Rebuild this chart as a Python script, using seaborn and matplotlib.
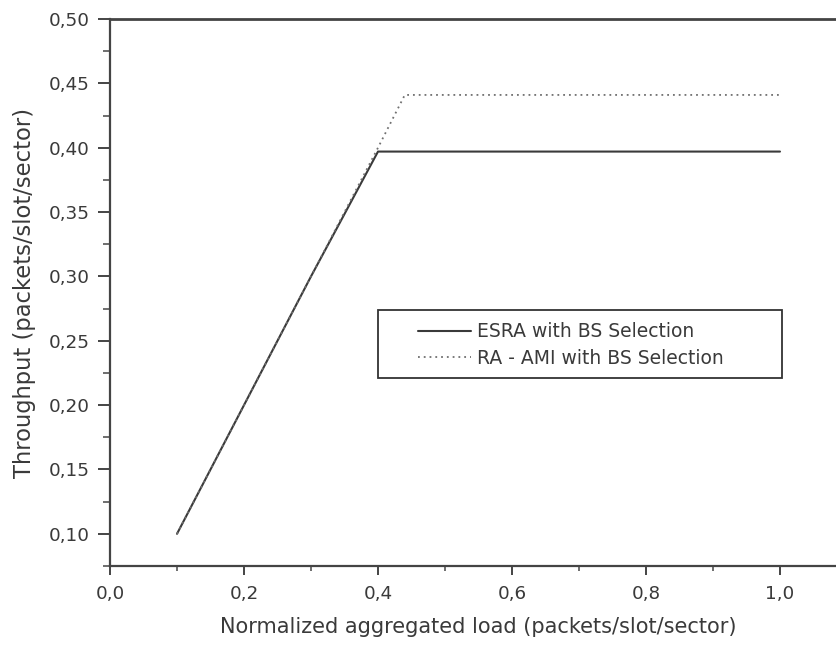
import matplotlib
matplotlib.use("Agg")
import matplotlib.pyplot as plt
from matplotlib.patches import Rectangle
from matplotlib.ticker import FixedLocator, MultipleLocator
import pandas as pd
import seaborn as sns

# Throughput versus normalized load for the two schemes
load_esra = [0.1, 0.2, 0.3, 0.4, 0.5, 0.6, 0.7, 0.8, 0.9, 1.0]
thr_esra = [0.100, 0.200, 0.300, 0.397, 0.397, 0.397, 0.397, 0.397, 0.397, 0.397]

load_ami = [0.1, 0.2, 0.3, 0.4, 0.44, 0.5, 0.6, 0.7, 0.8, 0.9, 1.0]
thr_ami = [0.100, 0.200, 0.300, 0.400, 0.441, 0.441, 0.441, 0.441, 0.441, 0.441, 0.441]

series_names = ["ESRA with BS Selection", "RA - AMI with BS Selection"]

x_ticks = [0.0, 0.2, 0.4, 0.6, 0.8, 1.0]
x_tick_labels = ["0,0", "0,2", "0,4", "0,6", "0,8", "1,0"]
y_ticks = [0.10, 0.15, 0.20, 0.25, 0.30, 0.35, 0.40, 0.45, 0.50]
y_tick_labels = ["0,10", "0,15", "0,20", "0,25", "0,30", "0,35", "0,40", "0,45", "0,50"]

x_label = "Normalized aggregated load (packets/slot/sector)"
y_label = "Throughput (packets/slot/sector)"

sns.set_style("ticks")
plt.rcParams["font.family"] = ["DejaVu Sans"]

ink = "#3a3a3a"
fig = plt.figure(figsize=(8.37, 6.46), dpi=100)
ax = fig.add_axes([110 / 837, 1 - 566 / 646, 737 / 837, (566 - 19) / 646])

df_esra = pd.DataFrame({"load": load_esra, "throughput": thr_esra})
df_ami = pd.DataFrame({"load": load_ami, "throughput": thr_ami})

sns.lineplot(data=df_esra, x="load", y="throughput", ax=ax, color="#3a3a3a",
             linewidth=1.5, label=series_names[0], sort=False, estimator=None)
sns.lineplot(data=df_ami, x="load", y="throughput", ax=ax, color="#707070",
             linewidth=1.3, linestyle=(0, (1, 2.2)), label=series_names[1],
             sort=False, estimator=None)

ax.set_xlim(0.0, 1.1)
ax.set_ylim(0.075, 0.50)

ax.xaxis.set_major_locator(FixedLocator(x_ticks))
ax.set_xticklabels(x_tick_labels)
ax.xaxis.set_minor_locator(MultipleLocator(0.1))
ax.yaxis.set_major_locator(FixedLocator(y_ticks))
ax.set_yticklabels(y_tick_labels)
ax.yaxis.set_minor_locator(MultipleLocator(0.025))

ax.tick_params(axis="both", which="major", direction="out", color="#444444",
               width=1.4, labelsize=13.2, labelcolor=ink)
ax.tick_params(axis="y", which="major", length=8.5, pad=6)
ax.tick_params(axis="x", which="major", length=6.5, pad=7.5)
ax.tick_params(axis="y", which="minor", direction="out", length=5, width=1.2, color="#555555")
ax.tick_params(axis="x", which="minor", direction="out", length=3.5, width=1.2, color="#555555")

ax.set_xlabel(x_label, fontsize=15, color=ink, labelpad=10)
ax.set_ylabel(y_label, fontsize=16.3, color=ink, labelpad=9)

for side in ["left", "bottom", "top"]:
    ax.spines[side].set_visible(True)
    ax.spines[side].set_color("#444444")
    ax.spines[side].set_linewidth(1.6)
ax.spines["top"].set_linewidth(2.0)
ax.spines["right"].set_visible(False)

leg = ax.legend(loc="center left", bbox_to_anchor=(418 / 837, 1 - 345 / 646),
                bbox_transform=fig.transFigure, frameon=False, fontsize=13.5,
                handlelength=2.85, handletextpad=0.3, labelspacing=0.38,
                borderpad=0.0, borderaxespad=0.0)
for t in leg.get_texts():
    t.set_color(ink)

fig.add_artist(Rectangle((378 / 837, 1 - 378 / 646), 404 / 837, 68 / 646,
                         transform=fig.transFigure, fill=False,
                         edgecolor="#333333", linewidth=1.3))

fig.savefig("out.png", dpi=100, facecolor="white")
